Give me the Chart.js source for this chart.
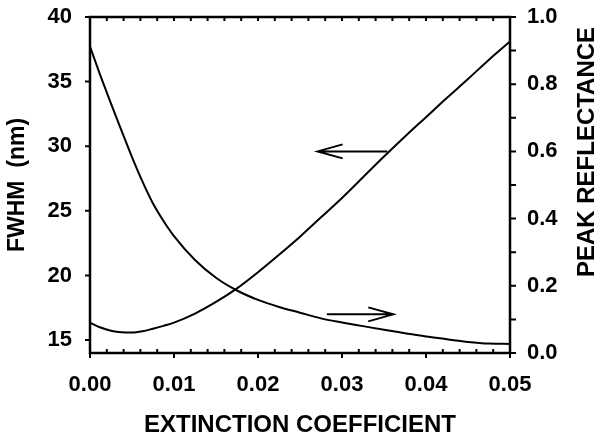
<!DOCTYPE html>
<html lang="en">
<head>
    <meta charset="UTF-8">
    <title>FWHM and peak reflectance vs extinction coefficient</title>
    <script src="https://cdn.jsdelivr.net/npm/chart.js@4.4.1/dist/chart.umd.min.js"></script>
    <style>
        html, body { margin: 0; padding: 0; background: #fff; }
        #wrap { width: 598px; height: 436px; }
    </style>
</head>
<body>
    <div id="wrap">
        <canvas id="myChart" width="598" height="436"></canvas>
    </div>

    <script type="text/javascript">

        // values
        var extinction = [0, 0.00125, 0.0025, 0.00375, 0.005, 0.00625, 0.0075, 0.00875, 0.01,
            0.0125, 0.015, 0.0175, 0.02, 0.0225, 0.025, 0.0275, 0.03, 0.0325, 0.035,
            0.0375, 0.04, 0.0425, 0.045, 0.0475, 0.05];
        var fwhm = [16.35, 15.97, 15.72, 15.6, 15.58, 15.68, 15.88, 16.1, 16.35,
            17.05, 17.95, 19.0, 20.25, 21.6, 23.0, 24.5, 26.0, 27.6, 29.2,
            30.75, 32.25, 33.75, 35.2, 36.7, 38.1];
        var reflectance = [0.912, 0.825, 0.742, 0.662, 0.583, 0.51, 0.445, 0.393, 0.348,
            0.277, 0.224, 0.186, 0.158, 0.137, 0.12, 0.103, 0.091, 0.08, 0.069,
            0.059, 0.049, 0.041, 0.033, 0.028, 0.027];

        var xTicks = [0, 0.01, 0.02, 0.03, 0.04, 0.05];
        var xMinorTicks = [0.002, 0.004, 0.006, 0.008, 0.012, 0.014, 0.016, 0.018,
            0.022, 0.024, 0.026, 0.028, 0.032, 0.034, 0.036, 0.038,
            0.042, 0.044, 0.046, 0.048];
        var fwhmTicks = [15, 20, 25, 30, 35, 40];
        var reflTicks = [0, 0.2, 0.4, 0.6, 0.8, 1.0];
        var reflMinorTicks = [0.1, 0.3, 0.5, 0.7, 0.9];

        // arrows telling which axis each curve belongs to
        var arrowToFwhm = { from: 0.0354, to: 0.0271, y: 29.6 };
        var arrowToRefl = { from: 0.0282, to: 0.0361, y: 0.115 };

        var fontFamily = "'Liberation Sans', Arial, sans-serif";

        function pts(ys) {
            return extinction.map(function (x, i) { return { x: x, y: ys[i] }; });
        }

        function setTicks(list) {
            return function (scale) {
                scale.ticks = list.map(function (v) { return { value: v }; });
            };
        }

        // fixed box sizes so the plot area lands where the original one is
        function fitBox(w, h) {
            return function (s) {
                if (w) s.width = w;
                if (h) s.height = h;
                s.paddingTop = 0;
                s.paddingBottom = 0;
                s.paddingLeft = 0;
                s.paddingRight = 0;
            };
        }

        var framePlugin = {
            id: 'frame',
            afterDraw: function (chart) {
                var ctx = chart.ctx;
                var a = chart.chartArea;
                var sx = chart.scales.x, sl = chart.scales.y, sr = chart.scales.y2;

                ctx.save();
                ctx.strokeStyle = '#000';
                ctx.lineCap = 'butt';

                // ticks
                ctx.lineWidth = 2;
                ctx.beginPath();
                xTicks.forEach(function (v) {
                    var px = sx.getPixelForValue(v);
                    ctx.moveTo(px, a.bottom); ctx.lineTo(px, a.bottom + 5);
                    ctx.moveTo(px, a.top); ctx.lineTo(px, a.top + 4);
                });
                xMinorTicks.forEach(function (v) {
                    var px = sx.getPixelForValue(v);
                    ctx.moveTo(px, a.bottom); ctx.lineTo(px, a.bottom - 4);
                    ctx.moveTo(px, a.top); ctx.lineTo(px, a.top + 4);
                });
                fwhmTicks.forEach(function (v) {
                    var py = sl.getPixelForValue(v);
                    ctx.moveTo(a.left, py); ctx.lineTo(a.left - 5, py);
                });
                reflTicks.concat(reflMinorTicks).forEach(function (v) {
                    var py = sr.getPixelForValue(v);
                    ctx.moveTo(a.right, py); ctx.lineTo(a.right + 6, py);
                });
                ctx.stroke();

                // frame
                ctx.lineWidth = 2.5;
                ctx.strokeRect(a.left, a.top, a.right - a.left, a.bottom - a.top);

                // arrows
                ctx.lineWidth = 2;
                [[arrowToFwhm, sl], [arrowToRefl, sr]].forEach(function (pair) {
                    var ar = pair[0], ys = pair[1];
                    var x0 = sx.getPixelForValue(ar.from);
                    var x1 = sx.getPixelForValue(ar.to);
                    var y = ys.getPixelForValue(ar.y);
                    var dir = x1 > x0 ? -1 : 1;
                    ctx.beginPath();
                    ctx.moveTo(x0, y); ctx.lineTo(x1, y);
                    ctx.moveTo(x1 + dir * 25, y - 7); ctx.lineTo(x1, y); ctx.lineTo(x1 + dir * 25, y + 7);
                    ctx.stroke();
                });

                // axis titles
                ctx.fillStyle = '#000';
                ctx.font = 'bold 24px ' + fontFamily;
                ctx.textAlign = 'center';
                ctx.textBaseline = 'alphabetic';
                ctx.fillText('EXTINCTION COEFFICIENT', (a.left + a.right) / 2, 432);

                ctx.textBaseline = 'middle';
                ctx.save();
                ctx.translate(587, 152);
                ctx.rotate(-Math.PI / 2);
                ctx.fillText('PEAK REFLECTANCE', 0, 0);
                ctx.restore();

                ctx.font = 'bold 23px ' + fontFamily;
                ctx.save();
                ctx.translate(18, 185);
                ctx.rotate(-Math.PI / 2);
                ctx.fillText('FWHM  (nm)', 0, 0);
                ctx.restore();

                ctx.restore();
            }
        };

        var tickFont = { family: fontFamily, size: 22, weight: 'bold' };

        var ctx = document.getElementById('myChart').getContext('2d');
        var myChart = new Chart(ctx, {
            type: 'line',
            data: {
                datasets: [{
                    label: 'FWHM (nm)',
                    data: pts(fwhm),
                    yAxisID: 'y',
                    borderColor: '#000',
                    borderWidth: 2,
                    pointRadius: 0,
                    cubicInterpolationMode: 'monotone',
                    fill: false
                }, {
                    label: 'Peak reflectance',
                    data: pts(reflectance),
                    yAxisID: 'y2',
                    borderColor: '#000',
                    borderWidth: 2,
                    pointRadius: 0,
                    cubicInterpolationMode: 'monotone',
                    fill: false
                }]
            },
            options: {
                responsive: false,
                animation: false,
                devicePixelRatio: 1,
                layout: { padding: { top: 17, left: 0, right: 0, bottom: 0 } },
                plugins: {
                    legend: { display: false },
                    tooltip: { enabled: false }
                },
                scales: {
                    x: {
                        type: 'linear',
                        min: 0,
                        max: 0.05,
                        afterBuildTicks: setTicks(xTicks),
                        afterFit: fitBox(0, 83),
                        grid: { display: false, drawTicks: false },
                        border: { display: false },
                        ticks: {
                            font: tickFont, color: '#000', padding: 19, maxRotation: 0,
                            callback: function (v) { return v.toFixed(2); }
                        }
                    },
                    y: {
                        position: 'left',
                        min: 14,
                        max: 40,
                        afterBuildTicks: setTicks(fwhmTicks),
                        afterFit: fitBox(90, 0),
                        grid: { display: false, drawTicks: false },
                        border: { display: false },
                        ticks: {
                            font: tickFont, color: '#000', padding: 18,
                            callback: function (v) { return String(v); }
                        }
                    },
                    y2: {
                        position: 'right',
                        min: 0,
                        max: 1,
                        afterBuildTicks: setTicks(reflTicks),
                        afterFit: fitBox(88, 0),
                        grid: { display: false, drawTicks: false },
                        border: { display: false },
                        ticks: {
                            font: tickFont, color: '#000', padding: 17,
                            callback: function (v) { return v.toFixed(1); }
                        }
                    }
                }
            },
            plugins: [framePlugin]
        });
    </script>
</body>
</html>
